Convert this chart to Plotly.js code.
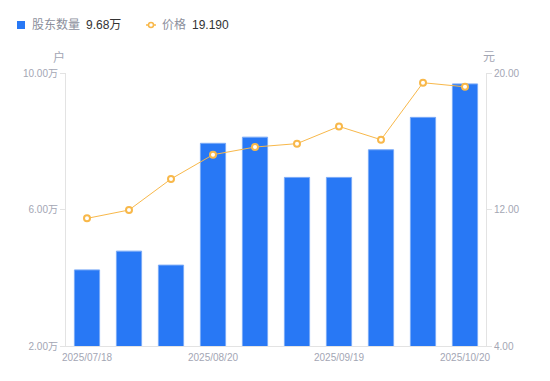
<!DOCTYPE html>
<html><head><meta charset="utf-8">
<script src="https://cdn.plot.ly/plotly-3.0.1.min.js"></script>
<style>html,body{margin:0;padding:0;background:#fff}#c{width:550px;height:381px}</style>
</head><body><div id="c"></div>
<script>
const dates = ["2025/07/18","2025/07/31","2025/08/08","2025/08/20","2025/08/29","2025/09/10","2025/09/19","2025/09/30","2025/10/10","2025/10/20"];
const holders = [4.23, 4.78, 4.37, 7.94, 8.12, 6.94, 6.94, 7.75, 8.70, 9.68];
const prices = [11.48, 11.97, 13.79, 15.21, 15.66, 15.86, 16.87, 16.09, 19.43, 19.19];
const xTicks = ["2025/07/18","2025/08/20","2025/09/19","2025/10/20"];
const leftTicks = [2, 6, 10];
const rightTicks = [4, 12, 20];
const seriesNames = ["股东数量", "价格"];

const F = '"Liberation Sans", Arial, "Noto Sans CJK SC", sans-serif';
const gray = '#a3a6b4';
const axisCol = '#e3e3e3';
const blue = '#2878f5';
const orange = '#f8b84a';

// plot area in pixels
const L = 66, R = 486, T = 73, B = 346;
const W = 550, H = 381;
const px = x => (x - L) / (R - L);
const py = y => (B - y) / (B - T);

const traces = [
  {type:'bar', x:dates, y:holders, name:seriesNames[0],
   marker:{color:blue, line:{color:'#7aaaf7', width:1}}, width:0.6, hoverinfo:'none'},
  {type:'scatter', mode:'lines+markers', x:dates, y:prices, yaxis:'y2', name:seriesNames[1],
   line:{color:orange, width:1},
   marker:{symbol:'circle', size:6, color:'#ffffff', line:{color:orange, width:2}}, hoverinfo:'none'}
];

const legY = 25;
const layout = {
  width:W, height:H,
  margin:{l:L, r:W-R, t:T, b:H-B},
  paper_bgcolor:'#fff', plot_bgcolor:'#fff',
  font:{family:F, size:10, color:gray},
  showlegend:false,
  bargap:0.4,
  xaxis:{type:'category', range:[-0.5, 9.5], tickmode:'array', tickvals:xTicks, ticktext:xTicks,
         showline:true, linecolor:axisCol, linewidth:1, ticks:'', showgrid:false, zeroline:false,
         ticklabelstandoff:2, tickfont:{size:10, color:gray}},
  yaxis:{range:[2,10], tickmode:'array', tickvals:leftTicks, ticktext:leftTicks.map(v=>v.toFixed(2)+'万'),
         showline:true, linecolor:axisCol, ticks:'outside', ticklen:5, tickcolor:axisCol,
         showgrid:false, zeroline:false, tickfont:{size:10, color:gray}},
  yaxis2:{range:[4,20], overlaying:'y', side:'right', tickmode:'array', tickvals:rightTicks,
          ticktext:rightTicks.map(v=>v.toFixed(2)),
          showline:true, linecolor:axisCol, ticks:'outside', ticklen:5, tickcolor:axisCol,
          showgrid:false, zeroline:false, tickfont:{size:10, color:gray}},
  shapes:[
    {type:'rect', xref:'paper', yref:'paper', x0:px(17), x1:px(25), y0:py(29), y1:py(21), fillcolor:blue, line:{width:0}},
    {type:'line', xref:'paper', yref:'paper', x0:px(146), x1:px(156), y0:py(legY), y1:py(legY), line:{color:orange, width:1.5}},
    {type:'circle', xref:'paper', yref:'paper', x0:px(148.5), x1:px(153.5), y0:py(legY+2.5), y1:py(legY-2.5), fillcolor:'#fff', line:{color:orange, width:1.5}}
  ],
  annotations:[
    {text:seriesNames[0], xref:'paper', yref:'paper', x:px(30), y:py(legY), xanchor:'left', yanchor:'middle', showarrow:false, font:{size:12, color:'#8c8f9c'}},
    {text:holders[holders.length-1].toFixed(2)+'万', xref:'paper', yref:'paper', x:px(84), y:py(legY), xanchor:'left', yanchor:'middle', showarrow:false, font:{size:12, color:'#333'}},
    {text:seriesNames[1], xref:'paper', yref:'paper', x:px(160), y:py(legY), xanchor:'left', yanchor:'middle', showarrow:false, font:{size:12, color:'#8c8f9c'}},
    {text:prices[prices.length-1].toFixed(3), xref:'paper', yref:'paper', x:px(190), y:py(legY), xanchor:'left', yanchor:'middle', showarrow:false, font:{size:12, color:'#333'}},
    {text:'户', xref:'paper', yref:'paper', x:px(59), y:py(57), xanchor:'center', yanchor:'middle', showarrow:false, font:{size:12, color:gray}},
    {text:'元', xref:'paper', yref:'paper', x:px(489), y:py(57), xanchor:'center', yanchor:'middle', showarrow:false, font:{size:12, color:gray}}
  ]
};
Plotly.newPlot('c', traces, layout, {displayModeBar:false, staticPlot:true});
</script></body></html>
